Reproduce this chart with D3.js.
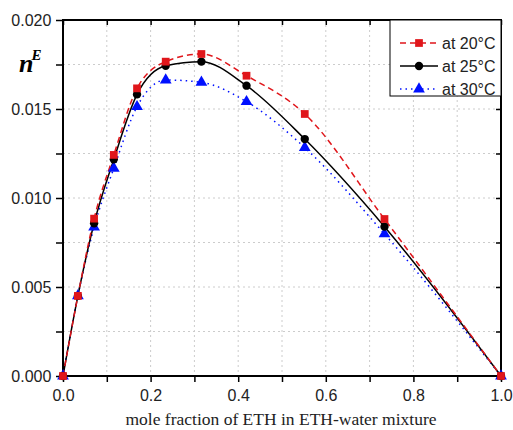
<!DOCTYPE html>
<html>
<head>
<meta charset="utf-8">
<script src="https://cdn.jsdelivr.net/npm/d3@7"></script>
<style>
  body { margin: 0; background: #fff; }
  text { font-family: "Liberation Sans", Arial, sans-serif; }
</style>
</head>
<body>
<script>
// mole fraction of ETH
const xFrac = [0, 0.034, 0.071, 0.116, 0.169, 0.2345, 0.316, 0.419, 0.552, 0.734, 1.0]
// n^E at each temperature
const at20 = [0, 0.0045, 0.00884, 0.01242, 0.01616, 0.01766, 0.01809, 0.01687, 0.01472, 0.00882, 0]
const at25 = [0, 0.0045, 0.00858, 0.01217, 0.01582, 0.01743, 0.01766, 0.01631, 0.01331, 0.00839, 0]
const at30 = [0, 0.0045, 0.00836, 0.01167, 0.01513, 0.01663, 0.0165, 0.01541, 0.01283, 0.00798, 0]
const seriesNames = ['at 20°C', 'at 25°C', 'at 30°C']
const xTicks = [0, 0.2, 0.4, 0.6, 0.8, 1.0]
const yTicks = [0, 0.005, 0.010, 0.015, 0.020]

const width = 513
const height = 430
const margin = { top: 20, right: 12, bottom: 54, left: 63 }
const w = width - margin.left - margin.right
const h = height - margin.top - margin.bottom

const svg = d3.select('body').append('svg').attr('width', width).attr('height', height)
const g = svg.append('g').attr('transform', `translate(${margin.left},${margin.top})`)

const x = d3.scaleLinear().domain([0, 1]).range([0, w])
const y = d3.scaleLinear().domain([0, 0.02]).range([h, 0])

// grid
g.append('g').selectAll('line').data(d3.range(1, 10).map(i => i / 10)).join('line')
  .attr('x1', d => x(d)).attr('x2', d => x(d)).attr('y1', 0).attr('y2', h)
  .attr('stroke', '#ccc').attr('stroke-dasharray', '2,3')
g.append('g').selectAll('line').data(d3.range(1, 8).map(i => i * 0.0025)).join('line')
  .attr('y1', d => y(d)).attr('y2', d => y(d)).attr('x1', 0).attr('x2', w)
  .attr('stroke', '#ccc').attr('stroke-dasharray', '2,3')

// axes
const xMinor = d3.range(0, 11).map(i => i / 10)
const yMinor = d3.range(0, 9).map(i => i * 0.0025)

const xAxis = g.append('g').attr('transform', `translate(0,${h})`)
  .call(d3.axisBottom(x).tickValues(xMinor).tickSize(6).tickFormat(d => xTicks.some(t => Math.abs(t - d) < 1e-9) ? d3.format('.1f')(d) : ''))
const yAxis = g.append('g')
  .call(d3.axisLeft(y).tickValues(yMinor).tickSize(7).tickFormat(d => yTicks.some(t => Math.abs(t - d) < 1e-9) ? d3.format('.3f')(d) : ''))
const xTop = g.append('g').call(d3.axisBottom(x).tickValues(xMinor).tickSize(5).tickFormat(''))
const yRight = g.append('g').attr('transform', `translate(${w},0)`)
  .call(d3.axisLeft(y).tickValues(yMinor).tickSize(5).tickFormat(''))

;[xAxis, yAxis, xTop, yRight].forEach(a => {
  a.select('.domain').remove()
  a.selectAll('line').attr('stroke', '#000').attr('stroke-width', 1.5)
})
xAxis.selectAll('text').attr('font-size', 16).attr('dy', '1em').attr('fill', '#222')
yAxis.selectAll('text').attr('font-size', 16).attr('dx', '-0.1em').attr('fill', '#222')

g.append('rect').attr('width', w).attr('height', h)
  .attr('fill', 'none').attr('stroke', '#000').attr('stroke-width', 2)

// lines
const series = [
  { name: seriesNames[0], vals: at20, color: '#e0161b', dash: '6,4', marker: d3.symbolSquare, size: 60 },
  { name: seriesNames[1], vals: at25, color: '#000', dash: null, marker: d3.symbolCircle, size: 55 },
  { name: seriesNames[2], vals: at30, color: '#0010ff', dash: '1.5,4', marker: d3.symbolTriangle, size: 60 }
]

const line = d3.line().x((d, i) => x(xFrac[i])).y(d => y(d)).curve(d3.curveMonotoneX)

series.slice().reverse().forEach(s => {
  g.append('path').datum(s.vals).attr('d', line)
    .attr('fill', 'none').attr('stroke', s.color).attr('stroke-width', 1.5)
    .attr('stroke-dasharray', s.dash)
})
series.slice().reverse().forEach(s => {
  g.append('g').selectAll('path').data(s.vals).join('path')
    .attr('transform', (d, i) => `translate(${x(xFrac[i])},${y(d)})`)
    .attr('d', d3.symbol().type(s.marker).size(s.size))
    .attr('fill', s.color)
})

// legend
const lg = g.append('g').attr('transform', `translate(${w - 111},0)`)
lg.append('rect').attr('width', 111).attr('height', 76).attr('fill', '#fff')
  .attr('stroke', '#000').attr('stroke-width', 1)
series.forEach((s, i) => {
  const yy = 23 + i * 23
  lg.append('line').attr('x1', 10).attr('x2', 48).attr('y1', yy).attr('y2', yy)
    .attr('stroke', s.color).attr('stroke-width', 1.5).attr('stroke-dasharray', s.dash)
  lg.append('path').attr('transform', `translate(29,${yy})`)
    .attr('d', d3.symbol().type(s.marker).size(s.size)).attr('fill', s.color)
  lg.append('text').attr('x', 52).attr('y', yy).attr('dy', '0.35em')
    .attr('font-size', 16).attr('fill', '#222').text(s.name)
})

// axis titles
svg.append('text').attr('x', 281).attr('y', 425)
  .attr('text-anchor', 'middle').attr('font-size', 17.5)
  .style('font-family', '"Liberation Serif", "Times New Roman", serif')
  .attr('fill', '#222')
  .text('mole fraction of ETH in ETH-water mixture')

const yt = svg.append('text').attr('x', 19).attr('y', 72)
  .style('font-family', '"Liberation Serif", "Times New Roman", serif')
  .attr('font-size', 26).attr('font-weight', 'bold').attr('font-style', 'italic')
yt.append('tspan').text('n')
yt.append('tspan').attr('font-size', 15).attr('dy', -12).attr('dx', -2).text('E')
</script>
</body>
</html>
